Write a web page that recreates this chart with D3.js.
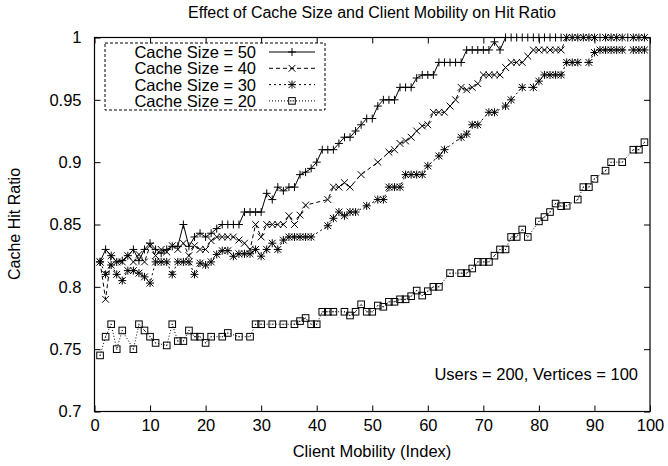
<!DOCTYPE html>
<html><head><meta charset="utf-8">
<script src="https://cdn.jsdelivr.net/npm/d3@7"></script>
<style>
body{margin:0;background:#fff}
svg{display:block}
text{font-family:"Liberation Sans",Arial,Helvetica,sans-serif;fill:#000}
</style>
</head><body>
<svg id="chart" width="668" height="466"></svg>
<script>
// ---------------- data ----------------
const mobility = [1,2,3,4,5,6,7,8,9,10,11,12,13,14,15,16,17,18,19,20,
  21,22,23,24,25,26,27,28,29,30,31,32,33,34,35,36,37,38,39,40,
  41,42,43,44,45,46,47,48,49,50,51,52,53,54,55,56,57,58,59,60,
  61,62,63,64,65,66,67,68,69,70,71,72,73,74,75,76,77,78,79,80,
  81,82,83,84,85,86,87,88,89,90,91,92,93,94,95,96,97,98,99];

const hit50 = [0.82,0.83,0.825,0.82,0.821,0.825,0.83,0.821,0.83,0.835,
  0.83,0.827,0.83,0.8325,0.8325,0.85,0.8325,0.84,0.843,0.84,
  0.843,0.8467,0.85,0.85,0.85,0.85,0.86,0.86,0.86,0.86,
  0.875,0.87,0.88,0.877,0.88,0.88,0.89,0.892,0.895,0.90,
  0.91,0.91,0.91,0.915,0.92,0.92,0.925,0.93,0.935,0.935,
  0.945,0.95,0.95,0.95,0.96,0.96,0.96,0.9675,0.97,0.97,
  0.97,0.98,0.98,0.98,0.98,0.98,0.99,0.99,0.99,0.99,
  0.99,0.9965,0.99,1,1,1,1,1,1,1,
  1,1,1,1,1,1,1,1,1,1,
  1,1,1,1,1,1,1,1,1];

const hit40 = [0.82,0.79,0.825,0.82,0.82,0.825,0.82,0.826,0.82,0.833,
  0.825,0.83,0.828,0.833,0.83,0.835,0.825,0.833,0.83,0.83,
  0.837,0.84,0.84,0.84,0.84,0.8375,0.835,0.83,0.85,0.84,
  0.85,0.85,0.85,0.85,0.857,0.85,0.8575,0.8655,null,null,
  null,0.87,0.88,0.88,0.8835,0.88,null,0.89,null,null,
  0.90,null,0.908,0.91,0.915,0.917,0.92,0.925,0.929,0.93,
  0.94,0.94,0.94,0.945,0.95,0.96,0.958,0.96,0.963,0.97,
  0.97,0.97,0.97,0.976,0.98,0.98,0.98,0.985,0.99,0.99,
  0.99,0.99,0.99,0.99,1,1,1,1,1,1,
  null,1,1,1,1,null,1,1,1];

const hit30 = [0.82,0.81,0.8175,0.81,0.805,0.813,0.813,0.811,0.808,0.803,
  0.82,0.82,0.82,0.81,0.82,0.82,0.82,0.81,0.819,0.8175,
  0.82,0.826,0.829,0.829,0.8245,0.8265,0.8265,0.8265,0.83,0.8246,
  0.83,0.835,0.83,0.8375,0.84,0.84,0.84,0.84,0.84,null,
  null,0.849,0.855,0.86,0.857,0.86,0.86,null,0.865,null,
  0.87,0.87,0.88,0.88,0.88,0.89,0.89,0.89,0.89,0.897,
  null,0.905,0.91,null,null,0.92,0.9225,0.93,0.93,null,
  0.94,0.94,null,0.945,0.95,null,0.96,null,0.96,0.965,
  0.97,0.97,0.97,0.97,0.98,0.98,0.98,null,0.98,0.988,
  0.99,0.99,0.99,0.99,0.99,null,0.99,0.99,0.99];

const hit20 = [0.745,0.76,0.77,0.75,0.765,null,0.75,0.77,0.765,0.76,
  0.755,null,0.753,0.77,0.7565,0.7565,0.765,0.76,0.76,0.755,
  0.76,null,0.76,0.763,null,0.76,null,0.76,0.77,0.77,
  null,0.77,null,0.77,null,0.77,0.7725,0.775,0.77,0.77,
  0.78,0.78,0.78,null,0.78,0.777,0.78,0.786,0.78,0.78,
  0.785,0.784,0.788,0.788,0.79,0.79,0.7925,0.797,0.793,0.7965,
  0.80,0.80,null,0.811,null,0.811,0.811,0.8147,0.82,0.82,
  0.82,0.825,0.83,0.83,0.84,0.84,0.846,0.84,null,0.8525,
  0.856,0.86,0.8668,0.8647,0.865,null,0.87,0.88,0.88,0.8866,
  null,0.8932,0.90,null,0.90,null,0.91,0.91,0.916];

const seriesLabels = ["Cache Size = 50","Cache Size = 40","Cache Size = 30","Cache Size = 20"];
const xTicks = [0,10,20,30,40,50,60,70,80,90,100];
const yTicks = [0.7,0.75,0.8,0.85,0.9,0.95,1];
const titleText = "Effect of Cache Size and Client Mobility on Hit Ratio";
const xLabel = "Client Mobility (Index)";
const yLabel = "Cache Hit Ratio";
const noteText = "Users = 200, Vertices = 100";

// ---------------- layout ----------------
const L = 94.5, R = 650, T = 37.5, B = 411.5;
const FS = 16.5;
const svg = d3.select("#chart");
const x = d3.scaleLinear().domain([0,100]).range([L,R]);
const y = d3.scaleLinear().domain([0.7,1]).range([B,T]);

const styles = [
  {dash:null, marker:"plus"},
  {dash:"4,3", marker:"cross"},
  {dash:"2,3", marker:"star"},
  {dash:"1,2", marker:"square"}
];
const allSeries = [hit50,hit40,hit30,hit20];

// axes
const fmt = d => String(d);
const gx = svg.append("g").attr("transform",`translate(0,${B})`)
  .call(d3.axisBottom(x).tickValues(xTicks).tickFormat(fmt).tickSizeInner(-6).tickSizeOuter(0).tickPadding(8));
const gxt = svg.append("g").attr("transform",`translate(0,${T})`)
  .call(d3.axisTop(x).tickValues(xTicks).tickFormat("").tickSizeInner(-6).tickSizeOuter(0));
const gy = svg.append("g").attr("transform",`translate(${L},0)`)
  .call(d3.axisLeft(y).tickValues(yTicks).tickFormat(fmt).tickSizeInner(-6).tickSizeOuter(0).tickPadding(13));
const gyr = svg.append("g").attr("transform",`translate(${R},0)`)
  .call(d3.axisRight(y).tickValues(yTicks).tickFormat("").tickSizeInner(-6).tickSizeOuter(0));
[gx,gxt,gy,gyr].forEach(g=>{
  g.select(".domain").remove();
  g.selectAll("line").attr("stroke","#000").attr("stroke-width",1);
  g.selectAll("text").attr("font-size",FS).attr("font-family","Liberation Sans, Arial, sans-serif").attr("fill","#000");
});

// frame
svg.append("rect").attr("x",L).attr("y",T).attr("width",R-L).attr("height",B-T)
  .attr("fill","none").attr("stroke","#000").attr("stroke-width",1.2);

// marker drawer
function drawMarker(g, type, cx, cy){
  const s = 4;
  if(type==="plus"||type==="star"){
    g.append("path").attr("d",`M${cx-s},${cy}H${cx+s}M${cx},${cy-s}V${cy+s}`)
      .attr("stroke","#000").attr("stroke-width",1).attr("fill","none");
  }
  if(type==="cross"||type==="star"){
    const c = 3.4;
    g.append("path").attr("d",`M${cx-c},${cy-c}L${cx+c},${cy+c}M${cx-c},${cy+c}L${cx+c},${cy-c}`)
      .attr("stroke","#000").attr("stroke-width",1).attr("fill","none");
  }
  if(type==="square"){
    g.append("rect").attr("x",cx-3.3).attr("y",cy-3.3).attr("width",6.6).attr("height",6.6)
      .attr("fill","none").attr("stroke","#000").attr("stroke-width",1);
    g.append("rect").attr("x",cx-0.5).attr("y",cy-0.5).attr("width",1).attr("height",1).attr("fill","#000");
  }
}

// series
const line = d3.line().x(d=>x(d[0])).y(d=>y(d[1]));
const plot = svg.append("g");
allSeries.slice().reverse().forEach((vals,ri)=>{
  const i = allSeries.length-1-ri;
  const pts = mobility.map((m,k)=>[m, vals[k]]).filter(d=>d[1]!==null);
  const p = plot.append("path").attr("d",line(pts)).attr("fill","none")
    .attr("stroke","#000").attr("stroke-width",1);
  if(styles[i].dash) p.attr("stroke-dasharray",styles[i].dash);
  const mg = plot.append("g");
  pts.forEach(d=>drawMarker(mg, styles[i].marker, x(d[0]), y(d[1])));
});

// legend
const lg = svg.append("g");
lg.append("rect").attr("x",105).attr("y",43).attr("width",220).attr("height",67)
  .attr("fill","#fff").attr("stroke","#000").attr("stroke-width",1).attr("stroke-dasharray","3,2");
seriesLabels.forEach((lab,i)=>{
  const cy = 52 + i*16.3;
  lg.append("text").attr("x",256).attr("y",cy+5.9).attr("text-anchor","end")
    .attr("font-size",FS).text(lab);
  const l = lg.append("line").attr("x1",269).attr("x2",315).attr("y1",cy).attr("y2",cy)
    .attr("stroke","#000").attr("stroke-width",1);
  if(styles[i].dash) l.attr("stroke-dasharray",styles[i].dash);
  drawMarker(lg, styles[i].marker, 292, cy);
});

// texts
svg.append("text").attr("x",372).attr("y",18).attr("text-anchor","middle").attr("font-size",16).text(titleText);
svg.append("text").attr("x",372).attr("y",457).attr("text-anchor","middle").attr("font-size",16.5).text(xLabel);
svg.append("text").attr("transform","translate(20,224) rotate(-90)").attr("text-anchor","middle").attr("font-size",16).text(yLabel);
svg.append("text").attr("x",638).attr("y",380).attr("text-anchor","end").attr("font-size",FS).text(noteText);
</script>
</body></html>
